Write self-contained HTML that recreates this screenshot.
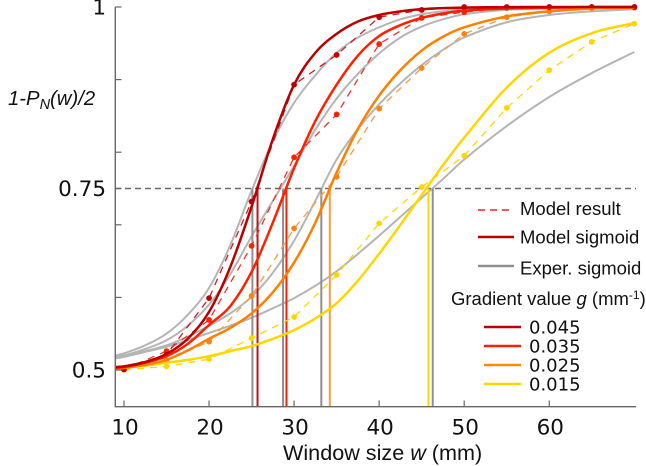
<!DOCTYPE html>
<html lang="en">
<head>
<meta charset="utf-8">
<title>Sigmoid chart</title>
<style>
html,body{margin:0;padding:0;background:#fff;}
svg{display:block;}
.tick{font-family:"DejaVu Sans",sans-serif;font-size:21.5px;fill:#111;}
.lab{font-family:"Liberation Sans",sans-serif;fill:#111;}
.leg{font-family:"Liberation Sans",sans-serif;font-size:18.5px;fill:#111;}
.val{font-family:"DejaVu Sans",sans-serif;font-size:18px;fill:#111;}
</style>
</head>
<body>
<svg id="chart" xmlns="http://www.w3.org/2000/svg" width="646" height="466" viewBox="0 0 646 466">
<rect x="0" y="0" width="646" height="466" fill="#fff"/>
<g id="marks"></g>
<g id="axes"></g>
<text class="lab" x="8" y="105" font-size="20.3" font-style="italic">1-P<tspan dy="4" font-size="14.5">N</tspan><tspan dy="-4">(w)/2</tspan></text>
<text class="lab" x="283" y="460" font-size="21.6">Window size <tspan font-style="italic">w</tspan> (mm)</text>
<g>
<line x1="478" y1="210" x2="514" y2="210" stroke="#e8262a" stroke-width="1.4" stroke-dasharray="7 5"/>
<text class="leg" x="520" y="215">Model result</text>
<line x1="478" y1="237" x2="514" y2="237" stroke="#b80000" stroke-width="2.4"/>
<text class="leg" x="520" y="243.5">Model sigmoid</text>
<line x1="478" y1="266" x2="514" y2="266" stroke="#8f8f8f" stroke-width="2.4"/>
<text class="leg" x="520" y="274.5">Exper. sigmoid</text>
<text class="leg" x="451" y="305">Gradient value <tspan font-style="italic">g</tspan> (mm<tspan dy="-6" font-size="12">-1</tspan><tspan dy="6">)</tspan></text>
<line x1="484" y1="327" x2="521" y2="327" stroke="#b80000" stroke-width="2.4"/>
<text class="val" x="529" y="333.3">0.045</text>
<line x1="484" y1="346" x2="521" y2="346" stroke="#ff2000" stroke-width="2.4"/>
<text class="val" x="529" y="352.3">0.035</text>
<line x1="484" y1="365" x2="521" y2="365" stroke="#ff8c00" stroke-width="2.4"/>
<text class="val" x="529" y="371.3">0.025</text>
<line x1="484" y1="384" x2="521" y2="384" stroke="#ffd700" stroke-width="2.4"/>
<text class="val" x="529" y="390.5">0.015</text>
</g>
</svg>
<script>
var gradients = ["0.045", "0.035", "0.025", "0.015"];
var curveW = [9,10,12.5,15,17.5,20,22.5,25,27.5,30,32.5,35,37.5,40,42.5,45,47.5,50,55,60,65,70];
var model045 = [.504,.505,.511,.522,.543,.58,.642,.725,.818,.893,.937,.963,.98,.989,.994,.997,.9985,.9992,.9998,1,1,1];
var model035 = [.503,.504,.51,.519,.536,.562,.588,.635,.703,.778,.843,.893,.933,.96,.975,.985,.991,.995,.998,.999,1,1];
var model025 = [.502,.503,.507,.514,.527,.543,.558,.578,.607,.648,.703,.772,.832,.878,.913,.94,.959,.972,.987,.994,.998,.999];
var model015 = [.502,.503,.506,.51,.514,.519,.526,.533,.543,.555,.571,.592,.623,.66,.70,.741,.782,.82,.889,.937,.964,.978];
var exper045 = [.52,.523,.534,.55,.576,.613,.672,.747,.815,.868,.906,.937,.958,.972,.983,.99,.994,.997,.999,1,1,1];
var exper035 = [.518,.52,.529,.541,.561,.59,.632,.684,.733,.781,.831,.874,.908,.936,.958,.973,.983,.99,.996,.998,.999,1];
var exper025 = [.518,.52,.526,.534,.546,.561,.578,.601,.634,.678,.733,.79,.832,.866,.895,.92,.941,.958,.979,.989,.994,.997];
var exper015 = [.516,.518,.525,.532,.541,.551,.561,.572,.585,.599,.616,.636,.66,.685,.711,.737,.763,.79,.836,.876,.909,.938];
var resultW = [10,15,20,25,30,35,40,45,50,55,60,65,70];
var result045 = [.501,.521,.599,.732,.893,.934,.986,.996,1,1,1,1,1];
var result035 = [.501,.526,.569,.671,.793,.852,.949,.985,.993,.999,1,1,1];
var result025 = [.501,.513,.539,.602,.695,.766,.86,.916,.963,.986,.994,.998,.999];
var result015 = [.5,.505,.515,.544,.573,.631,.702,.752,.795,.861,.913,.952,.977];
var modelCross = [25.7,29.1,34.2,45.8];
var experCross = [25.1,28.7,33.2,46.3];
var thresholdValue = [0.75];
var xTicks = [10,20,30,40,50,60];
var yTicks = [0.5,0.6,0.7,0.75,0.8,0.9,1];
var yTickLabels = ["0.5","","","0.75","","","1"];

var NS = "http://www.w3.org/2000/svg";
function X(w){ return 124 + (w - 10) * 8.505; }
function Y(p){ return 7 + (1 - p) * 726; }
var marks = document.getElementById("marks");
var axes = document.getElementById("axes");

function mk(tag, parent, attrs){
  var el = document.createElementNS(NS, tag);
  for (var k in attrs) el.setAttribute(k, attrs[k]);
  parent.appendChild(el);
  return el;
}
function smooth(xs, ys){
  var n = xs.length, i, m = [];
  for (i = 0; i < n; i++) {
    var a = Math.max(i - 1, 0), b = Math.min(i + 1, n - 1);
    m.push((ys[b] - ys[a]) / (xs[b] - xs[a]));
  }
  var s = "M" + xs[0].toFixed(2) + " " + ys[0].toFixed(2);
  for (i = 0; i < n - 1; i++) {
    var h = (xs[i + 1] - xs[i]) / 3;
    s += "C" + (xs[i] + h).toFixed(2) + " " + (ys[i] + m[i] * h).toFixed(2) + " " +
         (xs[i + 1] - h).toFixed(2) + " " + (ys[i + 1] - m[i + 1] * h).toFixed(2) + " " +
         xs[i + 1].toFixed(2) + " " + ys[i + 1].toFixed(2);
  }
  return s;
}

var modelCurves = [model015, model025, model035, model045];
var experCurves = [exper015, exper025, exper035, exper045];
var resultSets = [result015, result025, result035, result045];
var labelsInOrder = [gradients[3], gradients[2], gradients[1], gradients[0]];
var crossModelInOrder = [modelCross[3], modelCross[2], modelCross[1], modelCross[0]];
var crossExperInOrder = [experCross[3], experCross[2], experCross[1], experCross[0]];
var colors = ["#ffd700", "#ff7f00", "#ff2000", "#b80000"];
var dashColors = ["#ffd700", "#ff9a3c", "#f5302a", "#c8202a"];
var dotColors = ["#ffd700", "#ff8412", "#ff2000", "#c00000"];
var vColors = ["#ffd700", "#ff9a3c", "#ff2000", "#c01515"];
var curveX = curveW.map(X);
var resX = resultW.map(X);
var i, j, el;

for (i = 0; i < 4; i++) {
  el = mk("path", marks, {d: smooth(curveX, experCurves[i].map(Y)), fill: "none", stroke: "#b5b5b5", "stroke-width": 2});
  
  
}
el = mk("line", marks, {x1: 115, x2: 636, y1: Y(thresholdValue[0]), y2: Y(thresholdValue[0]), stroke: "#6a6a6a", "stroke-width": 1.4, "stroke-dasharray": "6 4"});


for (i = 0; i < 4; i++) {
  el = mk("line", marks, {x1: X(crossExperInOrder[i]), x2: X(crossExperInOrder[i]), y1: Y(thresholdValue[0]), y2: 406, stroke: "#8f8f8f", "stroke-width": 2});
  
  
  el = mk("line", marks, {x1: X(crossModelInOrder[i]), x2: X(crossModelInOrder[i]), y1: Y(thresholdValue[0]), y2: 406, stroke: vColors[i], "stroke-width": 2});
  
  
}
for (i = 0; i < 4; i++) {
  el = mk("polyline", marks, {points: resultSets[i].map(function (v, k) { return resX[k].toFixed(2) + "," + Y(v).toFixed(2); }).join(" "), fill: "none", stroke: dashColors[i], "stroke-width": 1.3, "stroke-dasharray": "7 6"});
  
  
  for (j = 0; j < resultW.length; j++) {
    el = mk("circle", marks, {cx: resX[j], cy: Y(resultSets[i][j]), r: 2.9, fill: dotColors[i]});
    
    
  }
}
for (i = 0; i < 4; i++) {
  el = mk("path", marks, {d: smooth(curveX, modelCurves[i].map(Y)), fill: "none", stroke: colors[i], "stroke-width": 2.5});
  
  
}

el = mk("path", axes, {d: "M115.3 6.7V406.7H636", fill: "none", stroke: "#666", "stroke-width": 1.4});


xTicks.forEach(function (t) {
  var tk = mk("line", axes, {x1: X(t), x2: X(t), y1: 406.7, y2: 400.5, stroke: "#666", "stroke-width": 1.2});
  
  
  var tl = mk("text", axes, {x: X(t) + 1, y: 434.5, "text-anchor": "middle", "class": "tick"});
  
  
  tl.textContent = String(t);
});
yTicks.forEach(function (t, k) {
  var tk = mk("line", axes, {x1: 115.3, x2: 121.5, y1: Y(t), y2: Y(t), stroke: "#666", "stroke-width": 1.2});
  
  
  if (yTickLabels[k]) {
    var tl = mk("text", axes, {x: 106, y: Y(t) + 7.5, "text-anchor": "end", "class": "tick"});
    
    
    tl.textContent = yTickLabels[k];
  }
});
</script>
</body>
</html>
